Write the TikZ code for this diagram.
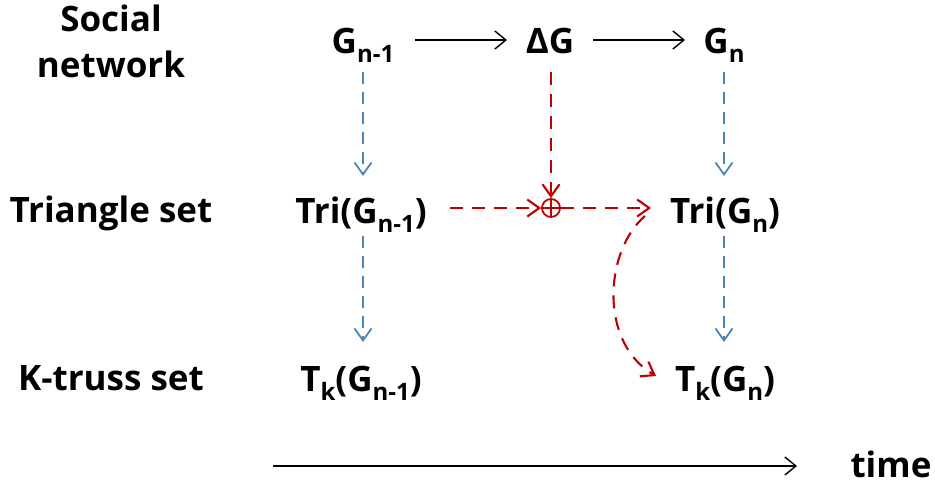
\documentclass[tikz,border=0pt]{standalone}
\usepackage{fontspec}
\setmainfont{Open Sans}[BoldFont={* Bold}]
\usetikzlibrary{arrows.meta,calc}
\definecolor{bluec}{RGB}{79,129,189}
\definecolor{redc}{RGB}{192,0,0}
\newcommand\sbs[1]{\raisebox{-0.28em}{\fontsize{24}{24}\selectfont #1}}
\tikzset{
  lbl/.style={font=\fontsize{35}{46}\selectfont\bfseries, inner sep=0pt, anchor=base, align=center},
  blk/.style={draw=black, line width=1.4pt, -{Straight Barb[length=11pt,width=18pt,line width=1.4pt]}},
  bluear/.style={draw=bluec, line width=1.8pt, dash pattern=on 12pt off 8pt, -{Straight Barb[length=12pt,width=17pt,line width=1.8pt]}},
  redar/.style={draw=redc, line width=2.1pt, dash pattern=on 13pt off 9pt, -{Straight Barb[length=12pt,width=17pt,line width=2.1pt]}},
}
\begin{document}
\begin{tikzpicture}[x=1pt,y=-1pt]
\useasboundingbox (0,0) rectangle (935,491);
% left labels
\node[lbl] (soc) at (111,77) {Social\\network};
\node[lbl] (tri) at (111,222) {Triangle set};
\node[lbl] (kt) at (111,390) {K-truss set};
% top row
\node[lbl] (g1) at (363,53) {G\sbs{n-1}};
\node[lbl] (dg) at (550,53) {ΔG};
\node[lbl] (gn) at (724,53) {G\sbs{n}};
% triangle row
\node[lbl] (t1) at (361,223) {Tri(G\sbs{n-1})};
\node[lbl] (tn) at (725,223) {Tri(G\sbs{n})};
% ktruss row
\node[lbl] (k1) at (361,391) {T\sbs{k}(G\sbs{n-1})};
\node[lbl] (kn) at (725,391) {T\sbs{k}(G\sbs{n})};
% time
\node[lbl] (time) at (891,477) {time};
% oplus
\node[circle, draw=redc, line width=1.8pt, minimum size=18pt, inner sep=0pt] (op) at (551,208) {};
\draw[redc, line width=1.5pt] (op.north) -- (op.south) (op.west) -- (op.east);
% coordinates
\coordinate (a1s) at (415,40);
\coordinate (a1e) at (507,40);
\coordinate (a2s) at (593,40);
\coordinate (a2e) at (685,40);
\coordinate (b1s) at (363,72);
\coordinate (b1e) at (363,176);
\coordinate (b2s) at (724,72);
\coordinate (b2e) at (724,176);
\coordinate (b3s) at (363,236);
\coordinate (b3e) at (363,342);
\coordinate (b4s) at (724,236);
\coordinate (b4e) at (724,342);
\coordinate (rvs) at (551,72);
\coordinate (rhs) at (450,208);
\coordinate (rhe) at (651,208);
\coordinate (rcs) at (645,216);
\coordinate (rce) at (656,376);
\coordinate (ts) at (273,466);
\coordinate (te) at (797,466);
% arrows
\draw[blk] (a1s) -- (a1e);
\draw[blk] (a2s) -- (a2e);
\draw[blk] (ts) -- (te);
\draw[bluear] (b1s) -- (b1e);
\draw[bluear] (b2s) -- (b2e);
\draw[bluear] (b3s) -- (b3e);
\draw[bluear] (b4s) -- (b4e);
\draw[redar] (rvs) -- (op.north);
\draw[redar] (rhs) -- (op.west);
\draw[redar] (op.east) -- (rhe);
\draw[redar] (rcs) .. controls (605,250) and (598,342) .. (rce);
\end{tikzpicture}
\end{document}
